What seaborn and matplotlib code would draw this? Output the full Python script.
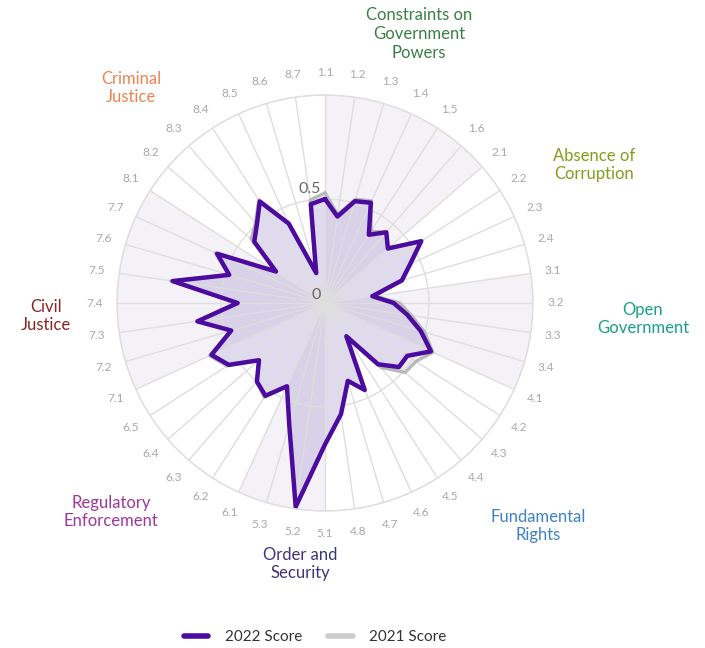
import numpy as np
import pandas as pd
import matplotlib
matplotlib.use("Agg")
import matplotlib.pyplot as plt
from matplotlib.lines import Line2D
import seaborn as sns

# ---------------- data ----------------
subfactors = ["1.1", "1.2", "1.3", "1.4", "1.5", "1.6",
              "2.1", "2.2", "2.3", "2.4",
              "3.1", "3.2", "3.3", "3.4",
              "4.1", "4.2", "4.3", "4.4", "4.5", "4.6", "4.7", "4.8",
              "5.1", "5.2", "5.3",
              "6.1", "6.2", "6.3", "6.4", "6.5",
              "7.1", "7.2", "7.3", "7.4", "7.5", "7.6", "7.7",
              "8.1", "8.2", "8.3", "8.4", "8.5", "8.6", "8.7"]

score_2022 = [0.50, 0.42, 0.51, 0.53, 0.39, 0.45,
              0.40, 0.55, 0.45, 0.385,
              0.23, 0.33, 0.40, 0.48,
              0.56, 0.47, 0.47, 0.39, 0.19, 0.46, 0.39, 0.54,
              0.68, 0.99, 0.61,
              0.44, 0.53, 0.50, 0.42, 0.55,
              0.60, 0.47, 0.62, 0.42, 0.74, 0.48, 0.57,
              0.28, 0.45, 0.50, 0.58, 0.42, 0.15, 0.48]

score_2021 = [0.53, 0.43, 0.52, 0.54, 0.41, 0.45,
              0.40, 0.55, 0.45, 0.39,
              0.24, 0.36, 0.42, 0.50,
              0.57, 0.52, 0.51, 0.41, 0.20, 0.46, 0.39, 0.54,
              0.68, 0.99, 0.61,
              0.44, 0.54, 0.50, 0.42, 0.56,
              0.61, 0.47, 0.62, 0.42, 0.75, 0.48, 0.58,
              0.28, 0.47, 0.51, 0.59, 0.42, 0.16, 0.50]

factors = ["Constraints on\nGovernment\nPowers", "Absence of\nCorruption",
           "Open\nGovernment", "Fundamental\nRights", "Order and\nSecurity",
           "Regulatory\nEnforcement", "Civil\nJustice", "Criminal\nJustice"]
factor_colors = ["#3a8044", "#819d1c", "#18a088", "#3d82c4",
                 "#3c3478", "#a0359c", "#8c2323", "#ec844f"]
series_names = ["2022 Score", "2021 Score"]
series_colors = ["#4b0b9e", "#b8b8b8"]

# ---------------- figure ----------------
sns.set_theme(style="white")
plt.rcParams["font.family"] = ["Lato", "DejaVu Sans"]

W, H = 705, 648
fig = plt.figure(figsize=(W / 100, H / 100), dpi=100)
cx, cy, R = 325, 303, 208
ax = fig.add_axes([(cx - R) / W, (H - cy - R) / H, 2 * R / W, 2 * R / H],
                  projection="polar")
ax.set_theta_zero_location("N")
ax.set_theta_direction(-1)

n = len(subfactors)
theta = np.arange(n) * 2 * np.pi / n
step = 2 * np.pi / n

# alternating factor sectors
factor_ids = [int(s.split(".")[0]) for s in subfactors]
for f in range(1, 9):
    idx = [i for i, v in enumerate(factor_ids) if v == f]
    start = theta[idx[0]]
    width = step * len(idx)
    if f % 2 == 1:
        ax.bar(start, 1.0, width=width, align="edge", color="#f4f2f6",
               edgecolor="none", zorder=0.8)

# data lines via seaborn
rows = []
for name, vals in zip(series_names, [score_2022, score_2021]):
    for i, v in enumerate(vals + [vals[0]]):
        rows.append({"series": name, "order": i,
                     "theta": theta[i % n] if i < n else 2 * np.pi, "value": v})
df = pd.DataFrame(rows)

for name, col, lw, z in [("2021 Score", series_colors[1], 2.3, 2.0),
                         ("2022 Score", series_colors[0], 3.2, 2.2)]:
    d = df[df.series == name]
    ax.fill(d["theta"], d["value"], color="#9a86c8", alpha=0.16, zorder=1.0,
            linewidth=0)
    sns.lineplot(data=d, x="theta", y="value", sort=False, estimator=None,
                 color=col, linewidth=lw, ax=ax, zorder=z, legend=False)

ax.set_ylim(0, 1.0)
ax.set_yticks([0.5, 1.0])
ax.set_yticklabels([])
ax.set_xticks(theta)
ax.set_xticklabels([])
ax.set_axisbelow("line")
ax.grid(True, color="#dedede", linewidth=1.0)
ax.spines["polar"].set_color("#dedede")
ax.spines["polar"].set_linewidth(1.0)
ax.set_xlabel("")
ax.set_ylabel("")

# spoke labels
for t, lab in zip(theta, subfactors):
    ax.text(t, 1.108, lab, ha="center", va="center", fontsize=8.6,
            color="#a8a8a8", clip_on=False)

# radial labels
ax.annotate("0.5", xy=(0, 0.5), xytext=(-3, 2), textcoords="offset points",
            ha="right", va="bottom", fontsize=11.5, color="#666666")
ax.annotate("0", xy=(0, 0), xytext=(-3, 1), textcoords="offset points",
            ha="right", va="bottom", fontsize=11.5, color="#666666")

# factor labels
label_pos = [(419, 34), (594, 165), (643, 319), (538, 526),
             (300, 564), (111, 512), (46, 316), (131, 88)]
for lab, col, (px, py) in zip(factors, factor_colors, label_pos):
    fig.text(px / W, 1 - py / H, lab, ha="center", va="center",
             fontsize=12, color=col, linespacing=1.22)

# legend
handles = [Line2D([0], [0], color=series_colors[0], lw=4),
           Line2D([0], [0], color="#cccccc", lw=4)]
fig.legend(handles, series_names, loc="center", bbox_to_anchor=(0.447, 1 - 637 / H),
           ncol=2, frameon=False, fontsize=11, handlelength=1.6,
           columnspacing=1.7, handletextpad=1.1, labelcolor="#333333")

fig.savefig("out.png", dpi=100, facecolor="white")
